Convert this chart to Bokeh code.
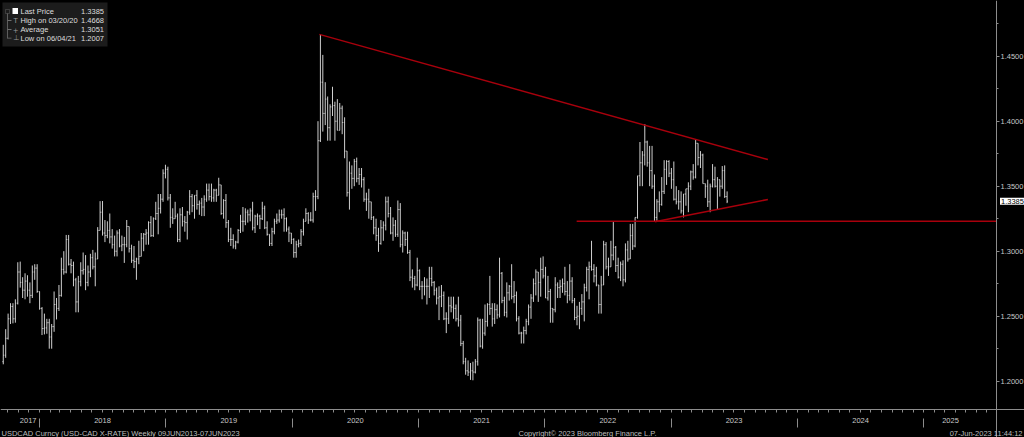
import pandas as pd
from bokeh.plotting import figure
from bokeh.models import (Range1d, LinearAxis, FixedTicker, PrintfTickFormatter,
                          Label, BoxAnnotation, ColumnDataSource, GlobalInlineStyleSheet)
from bokeh.embed import file_html
from bokeh.resources import INLINE

# ---------------- data (weekly USDCAD bars, week ending Friday) ----------------
first_week = "2017-09-15"
first_open = 1.2150

high_2017 = [1.2280, 1.2400, 1.2520, 1.2600, 1.2600, 1.2630, 1.2915, 1.2920,
             1.2800, 1.2830, 1.2815, 1.2760, 1.2890, 1.2900, 1.2900, 1.2690]
low_2017 = [1.2130, 1.2180, 1.2320, 1.2440, 1.2445, 1.2450, 1.2590, 1.2720,
            1.2640, 1.2630, 1.2650, 1.2600, 1.2640, 1.2780, 1.2680, 1.2550]
close_2017 = [1.2200, 1.2330, 1.2480, 1.2575, 1.2480, 1.2600, 1.2840, 1.2760,
              1.2700, 1.2770, 1.2700, 1.2660, 1.2840, 1.2870, 1.2690, 1.2560]

high_2018 = [1.2570, 1.2520, 1.2480, 1.2480, 1.2440, 1.2690, 1.2640, 1.2740,
             1.2950, 1.3000, 1.3125, 1.3125, 1.2940, 1.2920, 1.2795, 1.2810,
             1.2915, 1.2990, 1.2970, 1.2890, 1.2980, 1.3010, 1.2990, 1.3185,
             1.3385, 1.3386, 1.3240, 1.3230, 1.3290, 1.3170, 1.3120, 1.3160,
             1.3170, 1.3120, 1.3110, 1.3240, 1.3190, 1.3050, 1.3040, 1.2950,
             1.3080, 1.3140, 1.3140, 1.3170, 1.3230, 1.3270, 1.3260, 1.3380,
             1.3440, 1.3440, 1.3630, 1.3665]
low_2018 = [1.2355, 1.2360, 1.2365, 1.2250, 1.2250, 1.2380, 1.2475, 1.2540,
            1.2650, 1.2820, 1.2830, 1.2890, 1.2830, 1.2730, 1.2530, 1.2530,
            1.2730, 1.2820, 1.2700, 1.2730, 1.2800, 1.2860, 1.2730, 1.2940,
            1.3160, 1.3120, 1.3070, 1.3100, 1.3060, 1.3020, 1.2960, 1.2960,
            1.3030, 1.3000, 1.2910, 1.3030, 1.2990, 1.2910, 1.2870, 1.2780,
            1.2900, 1.2960, 1.3000, 1.3050, 1.3050, 1.3110, 1.3110, 1.3240,
            1.3130, 1.3290, 1.3380, 1.3560]
close_2018 = [1.2405, 1.2410, 1.2450, 1.2340, 1.2420, 1.2590, 1.2560, 1.2660,
              1.2860, 1.2840, 1.3090, 1.2900, 1.2890, 1.2780, 1.2610, 1.2765,
              1.2850, 1.2860, 1.2760, 1.2840, 1.2950, 1.2880, 1.2940, 1.3160,
              1.3300, 1.3140, 1.3120, 1.3160, 1.3110, 1.3050, 1.3000, 1.3140,
              1.3040, 1.3050, 1.3050, 1.3190, 1.3020, 1.2930, 1.2920, 1.2940,
              1.2960, 1.3100, 1.3130, 1.3140, 1.3220, 1.3120, 1.3250, 1.3290,
              1.3330, 1.3400, 1.3600, 1.3630]

high_2019 = [1.3650, 1.3440, 1.3330, 1.3380, 1.3290, 1.3330, 1.3340, 1.3270,
             1.3310, 1.3470, 1.3440, 1.3430, 1.3470, 1.3390, 1.3410, 1.3430,
             1.3520, 1.3520, 1.3520, 1.3480, 1.3480, 1.3565, 1.3510, 1.3400,
             1.3440, 1.3240, 1.3180, 1.3130, 1.3080, 1.3170, 1.3280, 1.3340,
             1.3330, 1.3320, 1.3330, 1.3380, 1.3280, 1.3290, 1.3280, 1.3380,
             1.3350, 1.3230, 1.3130, 1.3180, 1.3250, 1.3290, 1.3320, 1.3320,
             1.3330, 1.3260, 1.3190, 1.3140]
low_2019 = [1.3390, 1.3180, 1.3210, 1.3250, 1.3070, 1.3070, 1.3190, 1.3150,
            1.3090, 1.3280, 1.3300, 1.3250, 1.3320, 1.3280, 1.3270, 1.3270,
            1.3380, 1.3390, 1.3380, 1.3380, 1.3380, 1.3430, 1.3280, 1.3250,
            1.3180, 1.3070, 1.3040, 1.3020, 1.3015, 1.3060, 1.3140, 1.3150,
            1.3200, 1.3220, 1.3230, 1.3160, 1.3140, 1.3200, 1.3170, 1.3240,
            1.3170, 1.3120, 1.3040, 1.3040, 1.3130, 1.3210, 1.3220, 1.3250,
            1.3150, 1.3150, 1.3070, 1.3055]
close_2019 = [1.3410, 1.3260, 1.3250, 1.3270, 1.3090, 1.3280, 1.3230, 1.3220,
              1.3300, 1.3420, 1.3350, 1.3430, 1.3360, 1.3370, 1.3340, 1.3400,
              1.3470, 1.3420, 1.3410, 1.3470, 1.3430, 1.3510, 1.3290, 1.3390,
              1.3220, 1.3090, 1.3090, 1.3040, 1.3070, 1.3160, 1.3230, 1.3230,
              1.3300, 1.3280, 1.3310, 1.3180, 1.3270, 1.3270, 1.3250, 1.3330,
              1.3180, 1.3130, 1.3060, 1.3150, 1.3230, 1.3240, 1.3280, 1.3280,
              1.3250, 1.3170, 1.3140, 1.3090]

high_2020 = [1.3100, 1.3080, 1.3090, 1.3170, 1.3250, 1.3330, 1.3300, 1.3300,
             1.3450, 1.3470, 1.4000, 1.4668, 1.4510, 1.4300, 1.4190, 1.4130,
             1.4265, 1.4150, 1.4170, 1.4140, 1.4120, 1.4030, 1.3770, 1.3690,
             1.3660, 1.3710, 1.3720, 1.3640, 1.3640, 1.3570, 1.3450, 1.3480,
             1.3380, 1.3270, 1.3250, 1.3180, 1.3240, 1.3230, 1.3420, 1.3420,
             1.3340, 1.3260, 1.3240, 1.3390, 1.3370, 1.3160, 1.3150, 1.3150,
             1.3010, 1.2860, 1.2810, 1.2950]
low_2020 = [1.2950, 1.2950, 1.3030, 1.3040, 1.3120, 1.3230, 1.3210, 1.3230,
            1.3220, 1.3310, 1.3400, 1.3840, 1.3920, 1.3970, 1.3850, 1.3850,
            1.4040, 1.3850, 1.3930, 1.3930, 1.3900, 1.3715, 1.3420, 1.3320,
            1.3480, 1.3500, 1.3530, 1.3510, 1.3490, 1.3380, 1.3310, 1.3250,
            1.3240, 1.3130, 1.3080, 1.2995, 1.3050, 1.3080, 1.3160, 1.3260,
            1.3130, 1.3080, 1.3110, 1.3110, 1.3030, 1.2990, 1.3040, 1.2980,
            1.2770, 1.2720, 1.2700, 1.2730]
close_2020 = [1.2990, 1.3050, 1.3060, 1.3150, 1.3230, 1.3290, 1.3240, 1.3240,
              1.3420, 1.3420, 1.3850, 1.4300, 1.4060, 1.4170, 1.3950, 1.4110,
              1.4120, 1.4000, 1.3930, 1.4100, 1.3990, 1.3770, 1.3450, 1.3600,
              1.3560, 1.3690, 1.3560, 1.3590, 1.3550, 1.3400, 1.3400, 1.3380,
              1.3260, 1.3180, 1.3120, 1.3060, 1.3180, 1.3200, 1.3380, 1.3290,
              1.3140, 1.3200, 1.3130, 1.3320, 1.3050, 1.3140, 1.3090, 1.2990,
              1.2800, 1.2790, 1.2740, 1.2850]

high_2021 = [1.2860, 1.2770, 1.2800, 1.2790, 1.2880, 1.2880, 1.2770, 1.2720,
             1.2730, 1.2740, 1.2690, 1.2530, 1.2650, 1.2650, 1.2650, 1.2590,
             1.2650, 1.2510, 1.2310, 1.2180, 1.2160, 1.2140, 1.2150, 1.2170,
             1.2490, 1.2480, 1.2480, 1.2590, 1.2600, 1.2810, 1.2600, 1.2600,
             1.2590, 1.2950, 1.2840, 1.2650, 1.2760, 1.2740, 1.2900, 1.2770,
             1.2690, 1.2500, 1.2380, 1.2420, 1.2480, 1.2590, 1.2670, 1.2790,
             1.2860, 1.2840, 1.2950, 1.2960, 1.2880]
low_2021 = [1.2700, 1.2630, 1.2660, 1.2590, 1.2640, 1.2730, 1.2660, 1.2590,
            1.2470, 1.2570, 1.2470, 1.2370, 1.2440, 1.2530, 1.2480, 1.2460,
            1.2420, 1.2270, 1.2130, 1.2050, 1.2040, 1.2010, 1.2007, 1.2060,
            1.2120, 1.2260, 1.2250, 1.2350, 1.2420, 1.2510, 1.2420, 1.2440,
            1.2480, 1.2490, 1.2600, 1.2500, 1.2490, 1.2620, 1.2630, 1.2600,
            1.2460, 1.2360, 1.2290, 1.2290, 1.2360, 1.2430, 1.2480, 1.2610,
            1.2660, 1.2610, 1.2650, 1.2790, 1.2640]
close_2021 = [1.2730, 1.2730, 1.2730, 1.2730, 1.2790, 1.2760, 1.2700, 1.2640,
              1.2650, 1.2660, 1.2480, 1.2480, 1.2580, 1.2570, 1.2560, 1.2480,
              1.2470, 1.2290, 1.2150, 1.2080, 1.2070, 1.2080, 1.2070, 1.2150,
              1.2470, 1.2270, 1.2370, 1.2460, 1.2590, 1.2560, 1.2480, 1.2550,
              1.2510, 1.2830, 1.2620, 1.2530, 1.2680, 1.2730, 1.2650, 1.2660,
              1.2480, 1.2370, 1.2370, 1.2390, 1.2460, 1.2570, 1.2640, 1.2750,
              1.2840, 1.2760, 1.2860, 1.2810, 1.2640]

high_2022 = [1.2810, 1.2710, 1.2560, 1.2800, 1.2760, 1.2780, 1.2790, 1.2880,
             1.2770, 1.2900, 1.2800, 1.2640, 1.2580, 1.2610, 1.2670, 1.2750,
             1.2880, 1.2920, 1.3080, 1.2900, 1.2880, 1.2740, 1.2810, 1.3080,
             1.3070, 1.2950, 1.3080, 1.3224, 1.3040, 1.2950, 1.2920, 1.2930,
             1.3060, 1.3080, 1.3210, 1.3210, 1.3260, 1.3580, 1.3840, 1.3770,
             1.3977, 1.3850, 1.3810, 1.3810, 1.3590, 1.3400, 1.3460, 1.3570,
             1.3700, 1.3700, 1.3700, 1.3640]
low_2022 = [1.2620, 1.2450, 1.2450, 1.2530, 1.2640, 1.2640, 1.2680, 1.2660,
            1.2600, 1.2620, 1.2600, 1.2470, 1.2430, 1.2400, 1.2510, 1.2460,
            1.2690, 1.2630, 1.2850, 1.2760, 1.2730, 1.2520, 1.2520, 1.2740,
            1.2860, 1.2810, 1.2880, 1.2930, 1.2840, 1.2790, 1.2770, 1.2730,
            1.2760, 1.2920, 1.2940, 1.3010, 1.3030, 1.3250, 1.3500, 1.3500,
            1.3660, 1.3650, 1.3500, 1.3480, 1.3230, 1.3226, 1.3300, 1.3350,
            1.3440, 1.3510, 1.3570, 1.3480]
close_2022 = [1.2690, 1.2560, 1.2550, 1.2740, 1.2720, 1.2730, 1.2750, 1.2690,
              1.2660, 1.2770, 1.2620, 1.2490, 1.2500, 1.2560, 1.2610, 1.2720,
              1.2860, 1.2880, 1.2860, 1.2810, 1.2740, 1.2590, 1.2740, 1.3050,
              1.2880, 1.2880, 1.2970, 1.3030, 1.2890, 1.2800, 1.2900, 1.2780,
              1.3010, 1.2940, 1.3120, 1.3040, 1.3260, 1.3580, 1.3680, 1.3740,
              1.3840, 1.3680, 1.3620, 1.3500, 1.3260, 1.3380, 1.3360, 1.3460,
              1.3630, 1.3690, 1.3600, 1.3550]

high_2023 = [1.3690, 1.3500, 1.3470, 1.3460, 1.3440, 1.3480, 1.3530, 1.3620,
             1.3670, 1.3862, 1.3830, 1.3770, 1.3750, 1.3520, 1.3550, 1.3520,
             1.3670, 1.3650, 1.3570, 1.3550, 1.3655, 1.3660, 1.3460]
low_2023 = [1.3390, 1.3360, 1.3320, 1.3290, 1.3260, 1.3350, 1.3300, 1.3470,
            1.3550, 1.3560, 1.3660, 1.3640, 1.3520, 1.3410, 1.3340, 1.3300,
            1.3490, 1.3490, 1.3320, 1.3420, 1.3480, 1.3410, 1.3370]
close_2023 = [1.3400, 1.3380, 1.3380, 1.3310, 1.3440, 1.3480, 1.3500, 1.3610,
              1.3570, 1.3830, 1.3720, 1.3740, 1.3520, 1.3500, 1.3380, 1.3500,
              1.3550, 1.3500, 1.3550, 1.3500, 1.3620, 1.3420, 1.3385]

average_price = 1.3051

# drawn annotations (date, level)
resistance_dates = ["2020-03-20", "2023-10-08"]
resistance_levels = [1.4668, 1.3705]
support_dates = ["2022-11-15", "2023-10-08"]
support_levels = [1.3226, 1.3398]
flat_dates = ["2022-04-03", "2025-07-30"]
flat_level = 1.3230

# axes
y_ticks = [1.20, 1.25, 1.30, 1.35, 1.40, 1.45]
y_minor = [1.225, 1.275, 1.325, 1.375, 1.425, 1.475]
year_labels = ["2017", "2018", "2019", "2020", "2021", "2022", "2023", "2024", "2025"]
year_label_dates = ["2017-11-29", "2018-07-02", "2019-07-02", "2020-07-02", "2021-07-02",
                    "2022-07-02", "2023-07-02", "2024-07-02", "2025-03-19"]
year_starts = ["2018-01-01", "2019-01-01", "2020-01-01", "2021-01-01",
               "2022-01-01", "2023-01-01", "2024-01-01", "2025-01-01"]
x_view = ["2017-09-10", "2025-07-30"]      # spans the price pane (left edge .. price axis)
y_view = [1.15669, 1.49285]                # spans the whole canvas height

# ---------------- assemble ----------------
high = high_2017 + high_2018 + high_2019 + high_2020 + high_2021 + high_2022 + high_2023
low = low_2017 + low_2018 + low_2019 + low_2020 + low_2021 + low_2022 + low_2023
close = close_2017 + close_2018 + close_2019 + close_2020 + close_2021 + close_2022 + close_2023
openp = [first_open] + close[:-1]
dates = pd.date_range(first_week, periods=len(close), freq="W-FRI")

DAY = 86400000


def ms(d):
    return int(pd.Timestamp(d).value // 10**6)


W, H = 1024, 437           # whole canvas is the frame
PANE_W = 996               # price pane width; price axis sits on its right edge
x0_ms = ms(x_view[0])
ms_per_px = (ms(x_view[1]) - x0_ms) / PANE_W
x_end_ms = x0_ms + ms_per_px * W


def px_to_x(px):
    return x0_ms + px * ms_per_px


def py_to_y(py):
    return y_view[1] - py * (y_view[1] - y_view[0]) / H


def sy(py):                 # screen y measured from the bottom of the frame
    return H - py


bar_shift = 3 * DAY
tick_len = 2.5 * DAY
xs = [int(v // 10**6) + bar_shift for v in dates.asi8]
src = ColumnDataSource(dict(
    x=xs, xo=[v - tick_len for v in xs], xc=[v + tick_len for v in xs],
    o=openp, h=high, l=low, c=close))

GRAY = "#8c8c8c"
TXT = "#c8c8c8"
FONT = "Liberation Sans"

p = figure(frame_width=W, frame_height=H, output_backend="svg", toolbar_location=None,
           x_axis_location=None, y_axis_location=None,
           x_range=Range1d(x0_ms, x_end_ms), y_range=Range1d(*y_view),
           min_border=0, background_fill_color="black", border_fill_color="black",
           outline_line_color=None)
p.xgrid.grid_line_color = None
p.ygrid.grid_line_color = None
p.stylesheets = [GlobalInlineStyleSheet(css="html, body {margin:0; padding:0; background:#000; overflow:hidden;}")]

bar_color = "#cfcfcf"
p.segment(x0="x", y0="l", x1="x", y1="h", source=src, line_color=bar_color, line_width=1)
p.segment(x0="xo", y0="o", x1="x", y1="o", source=src, line_color=bar_color, line_width=1)
p.segment(x0="x", y0="c", x1="xc", y1="c", source=src, line_color=bar_color, line_width=1)

RED = "#a8000c"
p.line([ms(d) for d in resistance_dates], resistance_levels, line_color=RED, line_width=1.5)
p.line([ms(d) for d in support_dates], support_levels, line_color=RED, line_width=1.5)
p.line([ms(d) for d in flat_dates], [flat_level, flat_level], line_color=RED, line_width=1.5)

# right price axis (drawn at the right edge of the price pane)
yaxis = LinearAxis(ticker=FixedTicker(ticks=y_ticks, minor_ticks=y_minor),
                   formatter=PrintfTickFormatter(format="%.4f"), fixed_location=px_to_x(PANE_W),
                   axis_line_color=GRAY, major_tick_line_color=GRAY, minor_tick_line_color=GRAY,
                   major_tick_in=0, major_tick_out=3, minor_tick_in=0, minor_tick_out=2,
                   major_label_standoff=1, major_label_text_font_size="7.5px",
                   major_label_text_color=TXT, major_label_text_font=FONT)
p.add_layout(yaxis, "right")

# bottom axis: monthly ticks
month_ms = [int(v // 10**6) for v in pd.date_range("2017-10-01", "2025-07-01", freq="MS").asi8]
xaxis_m = LinearAxis(ticker=FixedTicker(ticks=[], minor_ticks=month_ms), fixed_location=py_to_y(409),
                     axis_line_color=GRAY, minor_tick_line_color=GRAY, minor_tick_in=0, minor_tick_out=3,
                     major_tick_line_color=None, major_tick_in=0, major_tick_out=0,
                     major_label_standoff=0, major_label_text_font_size="7.5px")
p.add_layout(xaxis_m, "below")

# bottom axis: year separators
xaxis_sep = LinearAxis(ticker=FixedTicker(ticks=[], minor_ticks=[ms(d) for d in year_starts]),
                       fixed_location=py_to_y(418), axis_line_color=None,
                       major_tick_line_color=None, major_tick_in=0, major_tick_out=0,
                       minor_tick_line_color=GRAY, minor_tick_in=0, minor_tick_out=9,
                       major_label_text_font_size="7.5px")
p.add_layout(xaxis_sep, "below")

# bottom axis: year labels
label_ms = [ms(d) for d in year_label_dates]
xaxis_y = LinearAxis(ticker=FixedTicker(ticks=label_ms, minor_ticks=[]),
                     major_label_overrides={k: v for k, v in zip(label_ms, year_labels)},
                     fixed_location=py_to_y(417.5),
                     axis_line_color=None, major_tick_line_color=None, major_tick_in=0, major_tick_out=0,
                     minor_tick_line_color=None, minor_tick_in=0, minor_tick_out=0,
                     major_label_standoff=0, major_label_text_font_size="7.5px",
                     major_label_text_color=TXT, major_label_text_font=FONT)
p.add_layout(xaxis_y, "below")


def lab(x, y, text, **kw):
    opts = dict(x=x, y=y, x_units="screen", y_units="screen", text=text,
                text_font=FONT, text_font_size="7.5px", text_color=TXT, text_baseline="middle")
    opts.update(kw)
    p.add_layout(Label(**opts))


# footer
FOOT = "#bdbdbd"
lab(1, sy(432.5), "USDCAD Curncy (USD-CAD X-RATE)  Weekly 09JUN2013-07JUN2023", text_color=FOOT)
lab(518, sy(432.5), "Copyright\u00a9 2023 Bloomberg Finance L.P.", text_color=FOOT)
lab(1022, sy(432.5), "07-Jun-2023 11:44:12", text_align="right", text_color=FOOT)

# last price tag
p.add_layout(Label(x=999.5, y=close[-1], x_units="screen", y_units="data", text=f"{close[-1]:.4f}",
                   text_font=FONT, text_font_size="7.5px", text_color="black", text_baseline="middle",
                   background_fill_color="white", padding=1))


# legend box
def box(left, right, top, bottom, **kw):
    opts = dict(left=left, right=right, top=sy(top), bottom=sy(bottom),
                left_units="screen", right_units="screen", top_units="screen", bottom_units="screen",
                fill_color="#1c1c1c", fill_alpha=1, line_color=None)
    opts.update(kw)
    p.add_layout(BoxAnnotation(**opts))


box(2, 107, 2, 46)
box(12, 17.5, 7.5, 13.5, fill_color="white")
box(5, 9, 9, 13, fill_alpha=0, line_color="#8a8a8a", line_width=1)
box(6.6, 7.4, 13, 38, fill_color="#6e6e6e")
rows = [10.7, 20.0, 29.0, 37.7]
for r in rows[1:]:
    box(7, 11, r - 0.4, r + 0.4, fill_color="#6e6e6e")
lab(13, sy(rows[1]), "T", text_color="#9a9a9a", text_font="DejaVu Sans", text_font_size="7px")
lab(12.2, sy(rows[2]), "+", text_color="#9a9a9a", text_font="DejaVu Sans", text_font_size="7px")
lab(12.8, sy(rows[3]), "\u22a5", text_color="#9a9a9a", text_font="DejaVu Sans", text_font_size="7px")

i_hi = max(range(len(high)), key=lambda i: high[i])
i_lo = min(range(len(low)), key=lambda i: low[i])
legend_names = ["Last Price",
                f"High on {dates[i_hi].strftime('%m/%d/%y')}",
                "Average",
                f"Low on {dates[i_lo].strftime('%m/%d/%y')}"]
legend_values = [close[-1], high[i_hi], average_price, low[i_lo]]
for r, name, val in zip(rows, legend_names, legend_values):
    lab(20, sy(r), name, text_color="#dedede")
    lab(103.5, sy(r), f"{val:.4f}", text_align="right", text_color="#dedede")

open("out.html", "w").write(file_html(p, INLINE))
